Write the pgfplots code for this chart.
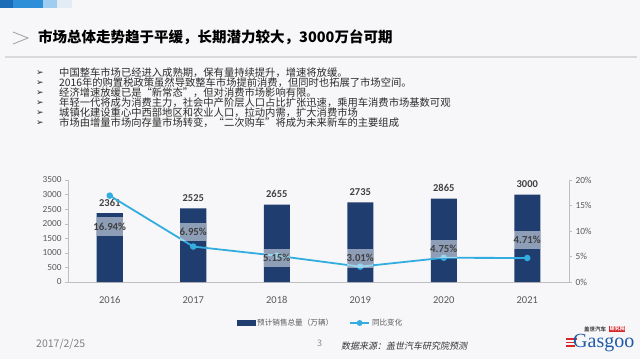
\documentclass[border=0pt]{standalone}
\usepackage{fontspec}
\usepackage{pgfplots}
\pgfplotsset{compat=1.18}
\setmainfont{Noto Sans CJK SC}
\newfontfamily\numfont{Carlito}
\newfontfamily\djv{DejaVu Sans}
\newfontfamily\serifl{Liberation Serif}
\newfontfamily\slcjk{Noto Sans CJK SC}[FakeSlant=0.2]
\definecolor{bg}{HTML}{F7F7F9}
\definecolor{barblue}{HTML}{1F3E6F}
\definecolor{linecyan}{HTML}{33ADDF}
\definecolor{ticktext}{HTML}{595959}
\definecolor{lab}{HTML}{404040}
\definecolor{axisgray}{HTML}{BFBFBF}
\definecolor{txt}{HTML}{2B2B2B}
\definecolor{sa}{HTML}{1B6DB8}
\definecolor{sb}{HTML}{2C8FD8}
\definecolor{sc}{HTML}{9FCDF0}
\definecolor{sd}{HTML}{E3ECF5}
\definecolor{logoblue}{HTML}{1D5AA8}
\definecolor{logored}{HTML}{D9262B}
\begin{document}
\begin{tikzpicture}[x=1pt,y=1pt]
\fill[bg] (0pt,0pt) rectangle (640pt,359pt);
\useasboundingbox (0pt,0pt) rectangle (640pt,359pt);
% top strip
\fill[sa] (0,351) rectangle (13,359);
\fill[sb] (13,351) rectangle (43,359);
\fill[sc] (43,351) rectangle (57,359);
\fill[sd] (57,351) rectangle (72,359);
% title
\draw[gray!70, line width=0.9pt] (13,327) -- (28,321) -- (13,315);
\node[anchor=west, inner sep=0, text=black, font=\fontsize{14.5}{16}\selectfont\bfseries] at (38,322) {市场总体走势趋于平缓，长期潜力较大，3000万台可期};
\draw[draw=black!15, line width=2pt] (5,302.3) -- (637,302.3);
% bullets
\foreach \i in {0,...,5} {
  \node[inner sep=0, text=txt, font=\djv\fontsize{9}{10}\selectfont] at (40,{286-10*\i}) {➢};
}
\begin{scope}[every node/.style={anchor=west, inner sep=0, text=txt, font=\fontsize{10.3}{11}\selectfont}]
\node at (59,286) {中国整车市场已经进入成熟期，保有量持续提升，增速将放缓。};
\node at (59,276) {2016年的购置税政策虽然导致整车市场提前消费，但同时也拓展了市场空间。};
\node at (59,266) {经济增速放缓已是“新常态”，但对消费市场影响有限。};
\node at (59,256) {年轻一代将成为消费主力，社会中产阶层人口占比扩张迅速，乘用车消费市场基数可观};
\node at (59,246) {城镇化建设重心中西部地区和农业人口，拉动内需，扩大消费市场};
\node at (59,236) {市场由增量市场向存量市场转变，“二次购车”将成为未来新车的主要组成};
\end{scope}
% bars
\begin{axis}[
  at={(68pt,77pt)}, anchor=south west, width=501pt, height=102pt, scale only axis,
  xmin=-0.5, xmax=5.5, ymin=0, ymax=3500, enlargelimits=false,
  axis x line*=bottom, axis y line*=left,
  axis line style={draw=axisgray},
  xtick={0,...,5}, xticklabels={2016,2017,2018,2019,2020,2021},
  xtick style={draw=none},
  ytick={0,500,...,3500},
  ytick style={draw=axisgray},
  tick align=outside, major tick length=3pt,
  /pgf/number format/assume math mode=true,
  /pgf/number format/1000 sep={},
  yticklabel style={font=\numfont\fontsize{9.3}{10}\selectfont, text=ticktext},
  xticklabel style={font=\numfont\fontsize{10.5}{12}\selectfont, text=ticktext, yshift=-8pt},
  ybar, bar width=26pt, clip=false,
  nodes near coords,
  every node near coord/.append style={font=\numfont\bfseries\fontsize{10.5}{12}\selectfont, text=lab, anchor=center, yshift=10.5pt},
]
\addplot[fill=barblue, draw=none] coordinates {(0,2361) (1,2525) (2,2655) (3,2735) (4,2865) (5,3000)};
\end{axis}
% line
\begin{axis}[
  at={(68pt,77pt)}, anchor=south west, width=501pt, height=102pt, scale only axis,
  xmin=-0.5, xmax=5.5, ymin=0, ymax=20, enlargelimits=false,
  axis x line=none, axis y line*=right,
  axis line style={draw=axisgray},
  ytick={0,5,...,20}, yticklabel={\pgfmathprintnumber{\tick}\%},
  ytick style={draw=axisgray},
  tick align=outside, major tick length=3pt,
  /pgf/number format/assume math mode=true,
  yticklabel style={font=\numfont\fontsize{9.3}{10}\selectfont, text=ticktext},
  clip=false,
  legend columns=2,
  legend style={draw=none, fill=none, at={(axis description cs:0.337,-0.402)}, anchor=west, inner sep=0pt, outer sep=0pt, font=\fontsize{7.6}{9}\selectfont, text=ticktext, /tikz/every even column/.append style={column sep=14pt}},
]
\addlegendimage{legend image code/.code={\fill[barblue] (0pt,-2.5pt) rectangle (18pt,2.5pt);}}
\addlegendentry{预计销售总量（万辆）}
\addplot[linecyan, line width=1.8pt, mark=*, mark size=2.3pt,
  legend image code/.code={\draw[linecyan, line width=1.8pt] (0pt,0pt) -- (19pt,0pt); \fill[linecyan] (9.5pt,0pt) circle (2pt);}]
  coordinates {(0,16.94) (1,6.95) (2,5.15) (3,3.01) (4,4.75) (5,4.71)};
\addlegendentry{同比变化}
\end{axis}
% percent labels on top
\begin{axis}[
  at={(68pt,77pt)}, anchor=south west, width=501pt, height=102pt, scale only axis,
  xmin=-0.5, xmax=5.5, ymin=0, ymax=20, enlargelimits=false,
  hide axis, clip=false,
]
\begin{scope}[every node/.style={fill=white, fill opacity=0.5, text opacity=1, minimum width=26pt, minimum height=18.5pt, inner sep=0, font=\numfont\bfseries\fontsize{10.8}{12}\selectfont, text=lab}]
\node at (axis cs:0,10.84) {\makebox[26pt]{16.94\%}};
\node at (axis cs:1,9.81) {\makebox[26pt]{6.95\%}};
\node at (axis cs:2,4.71) {\makebox[26pt]{5.15\%}};
\node at (axis cs:3,4.65) {\makebox[26pt]{3.01\%}};
\node at (axis cs:4,6.47) {\makebox[26pt]{4.75\%}};
\node at (axis cs:5,8.23) {\makebox[26pt]{4.71\%}};
\end{scope}
\end{axis}
% footer
\node[anchor=west, inner sep=0, text=black!50, font=\fontsize{10.5}{12}\selectfont] at (36,15) {2017/2/25};
\node[inner sep=0, text=black!45, font=\fontsize{9}{10}\selectfont] at (319.5,16) {3};
\node[anchor=west, inner sep=0, text=black!80, font=\slcjk\fontsize{9}{10}\selectfont] at (341,13) {数据来源：盖世汽车研究院预测};
% logo
\fill[logored] (566,19.5) rectangle (577,21);
\fill[logored] (566,16) rectangle (576,17.5);
\fill[logored] (566,12.5) rectangle (575,14);
\node[anchor=west, inner sep=0, text=logoblue, font=\serifl\fontsize{20}{22}\selectfont] at (573,16) {Gasgoo};
\node[anchor=west, inner sep=0, text=black!70, font=\fontsize{5.5}{6}\selectfont\bfseries] at (584,30) {盖世汽车};
\node[anchor=west, inner sep=0.6pt, fill=logored, text=white, font=\fontsize{5}{6}\selectfont\bfseries] at (609,30) {研究院};
\end{tikzpicture}
\end{document}
